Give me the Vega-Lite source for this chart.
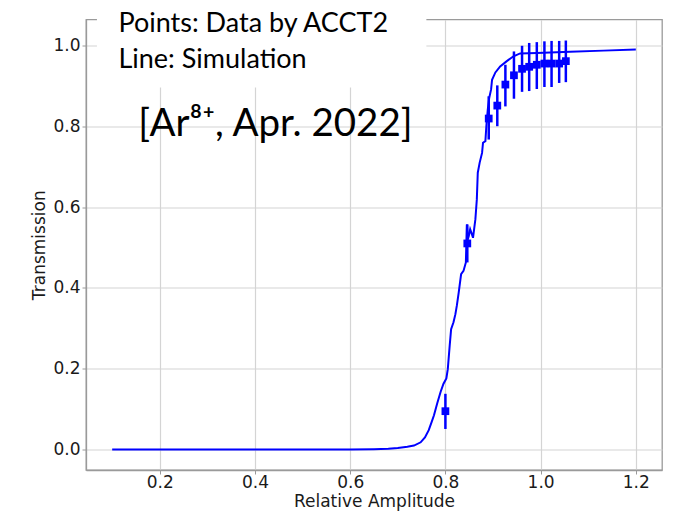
{
  "$schema": "https://vega.github.io/schema/vega-lite/v6.json",
  "width": 576,
  "height": 450.5,
  "autosize": {"type": "none"},
  "padding": {"left": 86, "top": 19.5, "right": 15, "bottom": 42},
  "background": "white",
  "config": {
    "view": {"stroke": "#9a9a9a", "strokeWidth": 1.3},
    "axis": {
      "labelFont": "DejaVu Sans",
      "titleFont": "DejaVu Sans",
      "labelFontSize": 17,
      "titleFontSize": 17,
      "titleFontWeight": "normal",
      "labelColor": "#1a1a1a",
      "titleColor": "#1a1a1a",
      "domainColor": "#9a9a9a",
      "domainWidth": 1.3,
      "tickColor": "#9a9a9a",
      "tickSize": 4,
      "gridColor": "#d4d4d4",
      "gridWidth": 1.2,
      "zindex": 0
    }
  },
  "datasets": {
    "sim": [
      {"amp": 0.1, "t": 0},
      {"amp": 0.2, "t": 0},
      {"amp": 0.3, "t": 0},
      {"amp": 0.4, "t": 0},
      {"amp": 0.5, "t": 0},
      {"amp": 0.6, "t": 0.0005},
      {"amp": 0.65, "t": 0.001},
      {"amp": 0.68, "t": 0.002},
      {"amp": 0.7, "t": 0.004},
      {"amp": 0.72, "t": 0.007},
      {"amp": 0.734, "t": 0.01},
      {"amp": 0.748, "t": 0.018},
      {"amp": 0.757, "t": 0.03},
      {"amp": 0.765, "t": 0.048},
      {"amp": 0.771, "t": 0.068},
      {"amp": 0.776, "t": 0.085},
      {"amp": 0.783, "t": 0.115},
      {"amp": 0.79, "t": 0.143},
      {"amp": 0.796, "t": 0.163},
      {"amp": 0.802, "t": 0.176},
      {"amp": 0.805, "t": 0.199},
      {"amp": 0.809, "t": 0.257},
      {"amp": 0.812, "t": 0.298},
      {"amp": 0.817, "t": 0.315},
      {"amp": 0.821, "t": 0.335},
      {"amp": 0.824, "t": 0.356},
      {"amp": 0.828, "t": 0.389},
      {"amp": 0.833, "t": 0.434},
      {"amp": 0.838, "t": 0.442},
      {"amp": 0.843, "t": 0.463},
      {"amp": 0.845, "t": 0.557},
      {"amp": 0.847, "t": 0.52},
      {"amp": 0.849, "t": 0.528},
      {"amp": 0.852, "t": 0.545},
      {"amp": 0.855, "t": 0.535},
      {"amp": 0.858, "t": 0.524},
      {"amp": 0.863, "t": 0.57},
      {"amp": 0.866, "t": 0.619},
      {"amp": 0.868, "t": 0.685},
      {"amp": 0.872, "t": 0.71},
      {"amp": 0.877, "t": 0.734},
      {"amp": 0.879, "t": 0.759},
      {"amp": 0.884, "t": 0.763},
      {"amp": 0.886, "t": 0.8},
      {"amp": 0.889, "t": 0.841},
      {"amp": 0.892, "t": 0.87},
      {"amp": 0.896, "t": 0.891},
      {"amp": 0.898, "t": 0.915},
      {"amp": 0.905, "t": 0.933},
      {"amp": 0.915, "t": 0.948},
      {"amp": 0.929, "t": 0.961},
      {"amp": 0.943, "t": 0.973},
      {"amp": 0.957, "t": 0.98},
      {"amp": 0.992, "t": 0.981},
      {"amp": 1.062, "t": 0.984},
      {"amp": 1.132, "t": 0.987},
      {"amp": 1.2, "t": 0.99}
    ],
    "acct2": [
      {"amp": 0.8, "t": 0.095, "lo": 0.051, "hi": 0.138},
      {"amp": 0.846, "t": 0.51, "lo": 0.463, "hi": 0.557},
      {"amp": 0.891, "t": 0.819, "lo": 0.767, "hi": 0.874},
      {"amp": 0.909, "t": 0.851, "lo": 0.8, "hi": 0.901},
      {"amp": 0.926, "t": 0.903, "lo": 0.849, "hi": 0.952},
      {"amp": 0.944, "t": 0.926, "lo": 0.868, "hi": 0.985},
      {"amp": 0.961, "t": 0.942, "lo": 0.885, "hi": 0.999},
      {"amp": 0.976, "t": 0.947, "lo": 0.887, "hi": 1.006},
      {"amp": 0.992, "t": 0.952, "lo": 0.892, "hi": 1.008},
      {"amp": 1.008, "t": 0.955, "lo": 0.897, "hi": 1.01},
      {"amp": 1.023, "t": 0.955, "lo": 0.897, "hi": 1.011},
      {"amp": 1.039, "t": 0.955, "lo": 0.907, "hi": 1.011},
      {"amp": 1.053, "t": 0.961, "lo": 0.909, "hi": 1.012}
    ],
    "one": [{}]
  },
  "layer": [
    {
      "data": {"name": "sim"},
      "mark": {"type": "line", "color": "#0000ff", "strokeWidth": 2, "clip": true},
      "encoding": {
        "x": {
          "field": "amp", "type": "quantitative",
          "scale": {"domain": [0.045, 1.255], "nice": false, "zero": false},
          "axis": {
            "title": "Relative Amplitude",
            "values": [0.2, 0.4, 0.6, 0.8, 1.0, 1.2],
            "format": ".1f",
            "labelPadding": 0,
            "titlePadding": 3
          }
        },
        "y": {
          "field": "t", "type": "quantitative",
          "scale": {"domain": [-0.0505, 1.064], "nice": false, "zero": false},
          "axis": {
            "title": "Transmission",
            "values": [0, 0.2, 0.4, 0.6, 0.8, 1.0],
            "format": ".1f",
            "labelPadding": 2,
            "titlePadding": 4
          }
        }
      }
    },
    {
      "data": {"name": "acct2"},
      "mark": {"type": "rule", "color": "#0000ff", "strokeWidth": 2.5},
      "encoding": {
        "x": {"field": "amp", "type": "quantitative"},
        "y": {"field": "lo", "type": "quantitative"},
        "y2": {"field": "hi"}
      }
    },
    {
      "data": {"name": "acct2"},
      "mark": {"type": "point", "shape": "square", "filled": true, "color": "#0000ff", "opacity": 1, "size": 60},
      "encoding": {
        "x": {"field": "amp", "type": "quantitative"},
        "y": {"field": "t", "type": "quantitative"}
      }
    },
    {
      "data": {"name": "one"},
      "mark": {"type": "rect", "color": "white", "opacity": 1},
      "encoding": {
        "x": {"datum": 0.068},
        "x2": {"datum": 0.76},
        "y": {"datum": 0.896},
        "y2": {"datum": 1.115}
      }
    },
    {
      "data": {"name": "one"},
      "mark": {"type": "text", "font": "Lato", "fontSize": 27, "align": "left", "baseline": "alphabetic", "color": "black"},
      "encoding": {
        "x": {"datum": 0.1131},
        "y": {"datum": 1.034},
        "text": {"value": "Points: Data by ACCT2"}
      }
    },
    {
      "data": {"name": "one"},
      "mark": {"type": "text", "font": "Lato", "fontSize": 27, "align": "left", "baseline": "alphabetic", "color": "black"},
      "encoding": {
        "x": {"datum": 0.1131},
        "y": {"datum": 0.944},
        "text": {"value": "Line: Simulation"}
      }
    },
    {
      "data": {"name": "one"},
      "mark": {"type": "text", "font": "Lato", "fontSize": 38.5, "align": "left", "baseline": "alphabetic", "color": "black"},
      "encoding": {
        "x": {"datum": 0.155},
        "y": {"datum": 0.775},
        "text": {"value": "[Ar⁸⁺, Apr. 2022]"}
      }
    }
  ]
}
